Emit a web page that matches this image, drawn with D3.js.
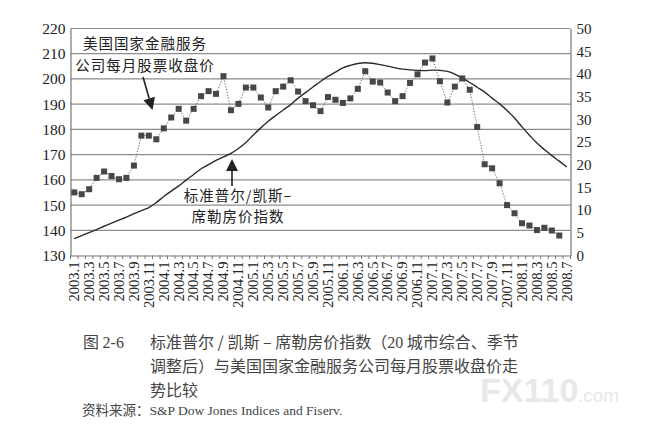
<!DOCTYPE html>
<html>
<head>
<meta charset="utf-8">
<script src="https://cdn.jsdelivr.net/npm/d3@7"></script>
<style>
  body { margin: 0; background: #fff; }
  svg text { fill: #222; }
</style>
</head>
<body>
<svg id="chart" width="658" height="438"></svg>
<script>
// Monthly categories, 2003.1 - 2008.7
const months = [
  "2003.1","2003.2","2003.3","2003.4","2003.5","2003.6","2003.7","2003.8","2003.9","2003.10","2003.11","2003.12",
  "2004.1","2004.2","2004.3","2004.4","2004.5","2004.6","2004.7","2004.8","2004.9","2004.10","2004.11","2004.12",
  "2005.1","2005.2","2005.3","2005.4","2005.5","2005.6","2005.7","2005.8","2005.9","2005.10","2005.11","2005.12",
  "2006.1","2006.2","2006.3","2006.4","2006.5","2006.6","2006.7","2006.8","2006.9","2006.10","2006.11","2006.12",
  "2007.1","2007.2","2007.3","2007.4","2007.5","2007.6","2007.7","2007.8","2007.9","2007.10","2007.11","2007.12",
  "2008.1","2008.2","2008.3","2008.4","2008.5","2008.6","2008.7"
];

// Tick labels shown under the axis (every second month)
const xLabels = [
  "2003.1","2003.3","2003.5","2003.7","2003.9","2003.11",
  "2004.1","2004.3","2004.5","2004.7","2004.9","2004.11",
  "2005.1","2005.3","2005.5","2005.7","2005.9","2005.11",
  "2006.1","2006.3","2006.5","2006.7","2006.9","2006.11",
  "2007.1","2007.3","2007.5","2007.7","2007.9","2007.11",
  "2008.1","2008.3","2008.5","2008.7"
];

// S&P/Case-Shiller 20-city index (left axis)
const houseIndex = [
  136.7, 137.9, 139.1, 140.3, 141.6, 142.8, 144.0, 145.2, 146.6, 147.8, 149.0, 151.0,
  153.4, 155.5, 157.6, 159.9, 162.1, 164.4, 166.0, 167.7, 169.1, 170.5, 172.4, 174.8,
  177.8, 180.6, 183.2, 185.5, 187.7, 189.8, 192.4, 194.6, 196.8, 199.0, 201.0, 202.7,
  204.4, 205.4, 206.1, 206.4, 206.2, 205.7, 205.1, 204.4, 203.9, 203.6, 203.4, 203.3,
  203.5, 203.4, 203.0, 201.9, 200.3, 198.6, 196.7, 194.8, 192.4, 190.1, 187.5, 184.5,
  181.0, 177.7, 174.6, 172.0, 169.6, 167.4, 165.1
];

// Countrywide Financial monthly closing price (right axis), 2003.1 - 2008.6
const stockPrice = [
  13.9, 13.5, 14.6, 17.1, 18.5, 17.5, 16.8, 17.1, 19.8, 26.4, 26.4, 25.6,
  28.0, 30.4, 32.3, 29.7, 32.3, 35.1, 36.2, 35.6, 39.5, 32.0, 33.4, 37.0,
  37.0, 34.8, 32.6, 36.2, 37.2, 38.6, 36.1, 34.0, 33.1, 31.8, 34.9, 34.3,
  33.6, 34.6, 36.7, 40.6, 38.3, 38.1, 35.9, 34.0, 35.1, 38.0, 39.9, 42.5,
  43.4, 38.4, 33.7, 37.2, 39.0, 36.5, 28.3, 20.1, 19.2, 15.9, 11.1, 9.3,
  7.1, 6.6, 5.6, 6.1, 5.5, 4.4
];

const leftTicks = [130, 140, 150, 160, 170, 180, 190, 200, 210, 220];
const rightTicks = [0, 5, 10, 15, 20, 25, 30, 35, 40, 45, 50];

const attr = { left: 70.5, right: 570.5, top: 28.5, bottom: 255.5 };
const serif = "'Liberation Serif', 'DejaVu Serif', serif";
const cjk = "'Noto Sans CJK SC', sans-serif";

const svg = d3.select("svg#chart");

const x = d3.scaleBand()
  .domain(months)
  .range([attr.left, attr.right]);
const cx = m => x(m) + x.bandwidth() / 2;

const yLeft = d3.scaleLinear()
  .domain([130, 220])
  .range([attr.bottom, attr.top]);

const yRight = d3.scaleLinear()
  .domain([0, 50])
  .range([attr.bottom, attr.top]);

// Gridlines (left axis steps)
svg.append("g")
  .selectAll("line")
  .data(leftTicks.slice(1))
  .enter()
  .append("line")
  .attr("x1", attr.left)
  .attr("x2", attr.right)
  .attr("y1", d => yLeft(d))
  .attr("y2", d => yLeft(d))
  .style("stroke", "#8c8c8c")
  .style("stroke-width", 1.2);

// Left axis
let leftAxis = svg.append("g")
  .attr("transform", "translate(" + attr.left + ",0)")
  .call(d3.axisLeft(yLeft).tickValues(leftTicks).tickSize(0).tickPadding(5));
leftAxis.select(".domain").style("stroke", "#777").style("stroke-width", 1.2);
leftAxis.selectAll("text")
  .style("font-size", "15.5px")
  .style("font-family", serif);

// Right axis
let rightAxis = svg.append("g")
  .attr("transform", "translate(" + attr.right + ",0)")
  .call(d3.axisRight(yRight).tickValues(rightTicks).tickSize(0).tickPadding(6));
rightAxis.select(".domain").style("stroke", "#777").style("stroke-width", 1.2);
rightAxis.selectAll("text")
  .style("font-size", "15px")
  .style("font-family", serif);

// Bottom axis with rotated labels
let bottomAxis = svg.append("g")
  .attr("transform", "translate(0," + attr.bottom + ")")
  .call(d3.axisBottom(x).tickValues(xLabels).tickSize(0).tickSizeOuter(0));
bottomAxis.select(".domain").style("stroke", "#777").style("stroke-width", 1.2);
bottomAxis.selectAll("text")
  .attr("transform", "rotate(-90)")
  .attr("x", -6)
  .attr("y", 0)
  .attr("dy", "0.33em")
  .attr("text-anchor", "end")
  .style("font-size", "14.5px")
  .style("font-family", serif);

// Monthly tick marks at band edges
bottomAxis.append("g")
  .selectAll("line")
  .data(months.concat([null]))
  .enter()
  .append("line")
  .attr("x1", d => d === null ? attr.right : x(d))
  .attr("x2", d => d === null ? attr.right : x(d))
  .attr("y1", 0)
  .attr("y2", 3.5)
  .style("stroke", "#777");

// House price index line
const houseLine = d3.line()
  .x((d, i) => cx(months[i]))
  .y(d => yLeft(d))
  .curve(d3.curveMonotoneX);

svg.append("path")
  .datum(houseIndex)
  .attr("d", houseLine)
  .style("fill", "none")
  .style("stroke", "#2a2a2a")
  .style("stroke-width", 1.4);

// Stock price: dotted line + square markers
const stockLine = d3.line()
  .x((d, i) => cx(months[i]))
  .y(d => yRight(d));

svg.append("path")
  .datum(stockPrice)
  .attr("d", stockLine)
  .style("fill", "none")
  .style("stroke", "#6a6a6a")
  .style("stroke-width", 1)
  .style("stroke-dasharray", "1.3,1.6");

const sq = 6;
svg.append("g")
  .selectAll("rect")
  .data(stockPrice)
  .enter()
  .append("rect")
  .attr("x", (d, i) => cx(months[i]) - sq / 2)
  .attr("y", d => yRight(d) - sq / 2)
  .attr("width", sq)
  .attr("height", sq)
  .style("fill", "#474747");

// Annotations
var drawArrow = function(x1, y1, x2, y2) {
  let dx = x2 - x1, dy = y2 - y1;
  let len = Math.hypot(dx, dy);
  let ux = dx / len, uy = dy / len;
  let hl = 12, hw = 6;
  let bx = x2 - ux * hl, by = y2 - uy * hl;
  svg.append("line")
    .attr("x1", x1).attr("y1", y1)
    .attr("x2", bx).attr("y2", by)
    .style("stroke", "#222")
    .style("stroke-width", 1.6);
  svg.append("path")
    .attr("d", "M" + x2 + "," + y2 +
      "L" + (bx - uy * hw) + "," + (by + ux * hw) +
      "L" + (bx + uy * hw) + "," + (by - ux * hw) + "Z")
    .style("fill", "#222");
};

// Multi-line label: centre x, baseline of first line, line step
var drawNote = function(lines, cxPos, y0, step) {
  lines.forEach(function(s, i) {
    svg.append("text")
      .attr("x", cxPos)
      .attr("y", y0 + i * step)
      .attr("text-anchor", "middle")
      .style("font-family", cjk)
      .style("font-size", "14.5px")
      .style("letter-spacing", "1px")
      .text(s);
  });
};

drawNote(["美国国家金融服务", "公司每月股票收盘价"], 145, 49.3, 21.3);
drawArrow(143, 77, 152.5, 110);

drawNote(["标准普尔/凯斯–", "席勒房价指数"], 238, 200.5, 21.3);
drawArrow(232, 186, 232, 159);

// Watermark
svg.append("text")
  .attr("x", 480).attr("y", 402)
  .style("font-family", "'Liberation Sans', sans-serif")
  .style("font-weight", "bold")
  .style("font-size", "34px")
  .style("fill", "#e8e8e8")
  .text("FX110");
svg.append("text")
  .attr("x", 578).attr("y", 402)
  .style("font-family", "'Liberation Sans', sans-serif")
  .style("font-size", "19px")
  .style("fill", "#e8e8e8")
  .text(".com");

// Caption: each line is a list of [text, isLatin] pieces
const captionLines = [
  [["标准普尔 / 凯斯 – 席勒房价指数（", false], ["20", true], [" 城市综合、季节", false]],
  [["调整后）与美国国家金融服务公司每月股票收盘价走", false]],
  [["势比较", false]]
];

let fig = svg.append("text")
  .attr("x", 83).attr("y", 348)
  .style("font-size", "16px")
  .style("fill", "#444");
fig.append("tspan").style("font-family", cjk).text("图 ");
fig.append("tspan").style("font-family", serif).text("2-6");

captionLines.forEach(function(pieces, i) {
  let t = svg.append("text")
    .attr("x", 150)
    .attr("y", 348 + i * 24)
    .style("font-size", "16px")
    .style("fill", "#444");
  pieces.forEach(function(p) {
    t.append("tspan")
      .style("font-family", p[1] ? serif : cjk)
      .text(p[0]);
  });
});

let src = svg.append("text")
  .attr("x", 82).attr("y", 415)
  .style("font-size", "13.5px")
  .style("fill", "#444");
src.append("tspan").style("font-family", cjk).text("资料来源：");
src.append("tspan").style("font-family", serif).text("S&P Dow Jones Indices and Fiserv.");
</script>
</body>
</html>
